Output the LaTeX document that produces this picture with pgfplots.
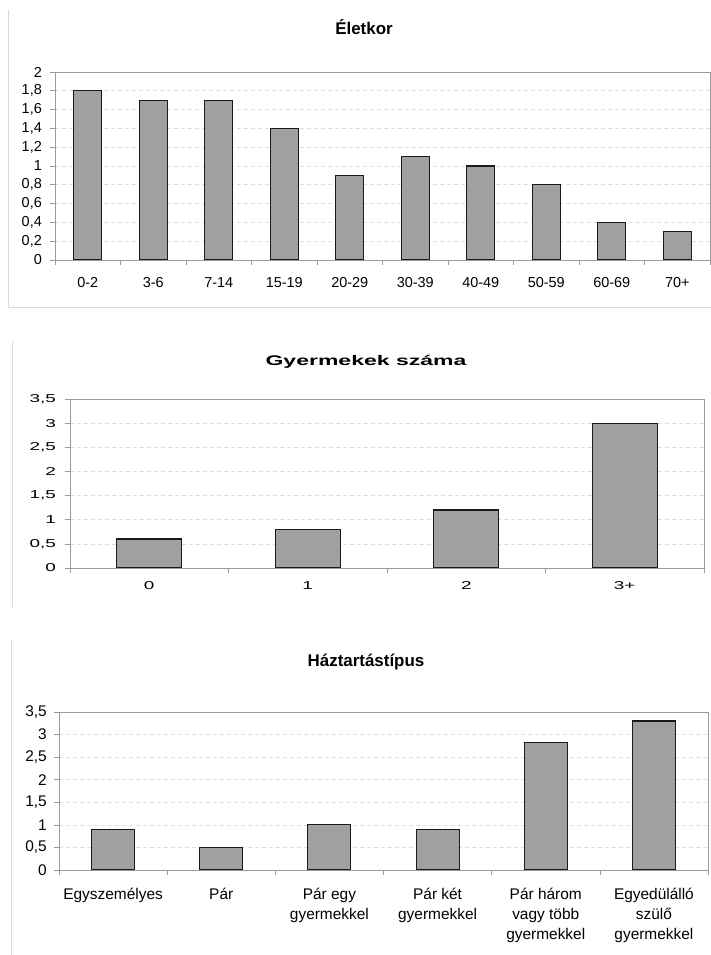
\documentclass[border=0pt]{standalone}
\usepackage{fontspec}
\setmainfont{Liberation Sans}
\newfontfamily\widefont[FakeStretch=1.65]{Liberation Sans}
\usepackage{pgfplots}
\pgfplotsset{compat=1.18}
\definecolor{barfill}{HTML}{A0A0A0}
\definecolor{baredge}{HTML}{1A1A1A}
\definecolor{axisgray}{HTML}{9A9A9A}
\definecolor{gridgray}{HTML}{DEDEDE}
\definecolor{framegray}{HTML}{D9D9D9}
\pgfplotsset{
  mybar/.style={
    scale only axis, ybar, ymin=0, xmin=-0.5,
    axis line style={axisgray, line width=0.9bp},
    ymajorgrids, grid style={gridgray, dash pattern=on 4bp off 3bp, line width=0.6bp},
    tick align=outside, tick pos=left,
    major tick length=5bp, minor tick length=5bp,
    major x tick style={draw=none},
    minor x tick style={axisgray, line width=0.6bp},
    ytick style={axisgray, line width=0.6bp},
    /pgf/number format/.cd, use comma, fixed, precision=1, assume math mode=true, /pgfplots/.cd,
    yticklabel style={anchor=east, inner sep=0pt},
    xticklabel style={anchor=north, inner sep=0pt, align=center},
  },
  mybars/.style={fill=barfill, draw=baredge, line width=1.1bp},
}
\begin{document}
\begin{tikzpicture}[x=1bp,y=1bp]
\path[use as bounding box] (0,0) rectangle (711,955);
% frames
\draw[framegray, line width=1bp] (8,945) -- (8,647) -- (711,647);
\draw[framegray, line width=1bp] (12.5,614) -- (12.5,348);
\draw[framegray, line width=1bp] (11.5,315) -- (11.5,0);
% titles
\node[font=\fontsize{17}{20}\selectfont\bfseries] at (364,928) {Életkor};
\node[font=\widefont\fontsize{14}{16}\selectfont\bfseries] at (366,593) {Gyermekek száma};
\node[font=\fontsize{17}{20}\selectfont\bfseries] at (366,293) {Háztartástípus};

% chart 1
\begin{axis}[mybar, at={(55bp,695bp)}, anchor=south west, width=655bp, height=188bp,
  xmax=9.5, ymax=2, bar width=28bp,
  ytick={0,0.2,0.4,0.6,0.8,1,1.2,1.4,1.6,1.8,2},
  xtick={0,...,9},
  minor xtick={-0.5,0.5,1.5,2.5,3.5,4.5,5.5,6.5,7.5,8.5,9.5},
  xticklabels={0-2,3-6,7-14,15-19,20-29,30-39,40-49,50-59,60-69,70+},
  yticklabel style={font=\fontsize{14.5}{16}\selectfont, xshift=-8bp},
  xticklabel style={font=\fontsize{14.5}{16}\selectfont, yshift=-12bp},
]
\addplot[mybars] coordinates {(0,1.8) (1,1.7) (2,1.7) (3,1.4) (4,0.9) (5,1.1) (6,1.0) (7,0.8) (8,0.4) (9,0.3)};
\end{axis}

% chart 2
\begin{axis}[mybar, at={(70bp,387bp)}, anchor=south west, width=634bp, height=169bp,
  xmax=3.5, ymax=3.5, bar width=65bp,
  ytick={0,0.5,1,1.5,2,2.5,3,3.5},
  xtick={0,...,3},
  minor xtick={-0.5,0.5,1.5,2.5,3.5},
  xticklabels={0,1,2,3+},
  yticklabel style={font=\widefont\fontsize{11.5}{13}\selectfont, xshift=-9bp},
  xticklabel style={font=\widefont\fontsize{11.5}{13}\selectfont, yshift=-8bp},
]
\addplot[mybars] coordinates {(0,0.6) (1,0.8) (2,1.2) (3,3.0)};
\end{axis}

% chart 3
\begin{axis}[mybar, at={(59bp,85bp)}, anchor=south west, width=649bp, height=158bp,
  xmax=5.5, ymax=3.5, bar width=43bp,
  ytick={0,0.5,1,1.5,2,2.5,3,3.5},
  xtick={0,...,5},
  minor xtick={-0.5,0.5,1.5,2.5,3.5,4.5,5.5},
  xticklabels={Egyszemélyes,Pár,{Pár egy\\gyermekkel},{Pár két\\gyermekkel},{Pár három\\vagy több\\gyermekkel},{Egyedülálló\\szülő\\gyermekkel}},
  yticklabel style={font=\fontsize{15.5}{17}\selectfont, xshift=-7bp},
  xticklabel style={font=\fontsize{15.5}{20}\selectfont, yshift=-13bp},
]
\addplot[mybars] coordinates {(0,0.9) (1,0.5) (2,1.0) (3,0.9) (4,2.82) (5,3.3)};
\end{axis}
\end{tikzpicture}
\end{document}
